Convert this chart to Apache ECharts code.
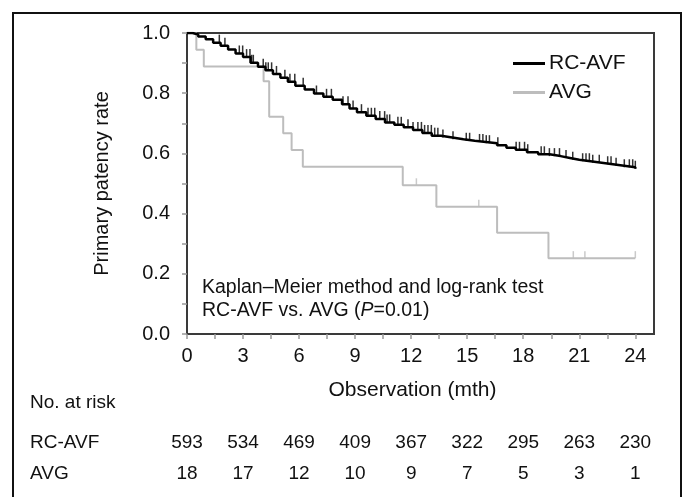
<!DOCTYPE html>
<html><head><meta charset="utf-8">
<script src="https://cdn.jsdelivr.net/npm/echarts@6/dist/echarts.min.js"></script>
<style>html,body{margin:0;padding:0;background:#fff}#c{width:686px;height:497px}</style>
</head><body><div id="c"></div>
<script>
// ---- data ----
const xTickValues = [0,1.5,3,4.5,6,7.5,9,10.5,12,13.5,15,16.5,18,19.5,21,22.5,24];
const xLabelValues = [0,3,6,9,12,15,18,21,24];
const yTickValues = [0,0.1,0.2,0.3,0.4,0.5,0.6,0.7,0.8,0.9,1.0];
const yLabelValues = [0,0.2,0.4,0.6,0.8,1.0];

const rcavfTimes = [0,0.3,0.6,1.0,1.4,1.8,2.2,2.6,3.0,3.4,3.8,4.2,4.6,5.0,5.4,5.8,6.3,6.8,7.3,7.8,8.3,8.7,9.1,9.6,10.1,10.6,11.1,11.6,12.1,12.6,13.1,13.6,14.2,14.8,15.4,16.0,16.6,17.1,17.6,18.2,18.8,19.4,20.0,20.5,21.0,21.6,22.2,22.8,23.4,24.0];
const rcavfSurv  = [1.0,0.995,0.988,0.979,0.968,0.958,0.945,0.932,0.92,0.901,0.888,0.876,0.864,0.851,0.838,0.825,0.812,0.799,0.788,0.778,0.763,0.749,0.737,0.725,0.714,0.703,0.695,0.687,0.678,0.668,0.659,0.653,0.647,0.642,0.638,0.634,0.627,0.619,0.612,0.604,0.597,0.591,0.585,0.579,0.574,0.569,0.564,0.559,0.554,0.549];
const rcavfCensor = [1.73,2.03,2.8,2.98,3.19,3.37,3.46,3.55,4.08,4.22,4.35,4.53,4.79,5.24,5.51,5.77,6.22,6.93,7.47,7.73,8.35,8.62,8.89,9.34,9.69,9.87,10.05,10.32,10.58,10.71,10.85,11.29,11.47,11.83,12.1,12.36,12.55,12.72,12.9,13.08,13.26,13.43,13.7,14.24,14.95,15.13,15.66,15.84,16.02,16.19,16.64,17.62,17.8,18.07,18.24,18.96,19.13,19.4,19.67,19.94,20.29,20.65,21.18,21.36,21.54,21.72,22.07,22.52,22.7,22.97,23.41,23.68,23.86,24.0];

const avgTimes = [0,0.5,0.9,4.1,4.4,5.15,5.6,6.2,11.55,13.35,16.6,19.35,24.0];
const avgSurv  = [1.0,0.944,0.889,0.84,0.722,0.667,0.611,0.556,0.494,0.423,0.336,0.252,0.252];
const avgCensor = [12.28,15.62,20.68,21.3,24.0];

const riskMonths = [0,3,6,9,12,15,18,21,24];
const riskRCAVF = [593,534,469,409,367,322,295,263,230];
const riskAVG = [18,17,12,10,9,7,5,3,1];

// ---- helpers ----
function steps(times, surv){ return times.map((t,i)=>[t, surv[i]]); }
function survAt(times, surv, t){ let v = surv[0]; for (let i=0;i<times.length;i++){ if (times[i] <= t) v = surv[i]; } return v; }
function censorPts(c, times, surv){ return c.map(t=>[t, survAt(times, surv, t)]); }

const FONT = 'Arial, "Liberation Sans", sans-serif';

const chart = echarts.init(document.getElementById('c'), null, {renderer:'canvas'});
const option = {
  animation: false,
  backgroundColor: '#fff',
  grid: { left: 187, right: 32, top: 33, bottom: 163, show: true, borderColor: '#3a3a3a', borderWidth: 2, backgroundColor: 'transparent' },
  legend: {
    left: 513, top: 53, padding: 0, orient: 'vertical', itemWidth: 32, itemHeight: 3, itemGap: 8, icon: 'rect',
    textStyle: { fontFamily: FONT, fontSize: 21, color: '#111', padding: [0,0,0,-1] },
    data: ['RC-AVF', 'AVG']
  },
  xAxis: {
    type: 'value', min: 0, max: 25,
    axisLine: { show: true, lineStyle: { color: '#3a3a3a', width: 2 } },
    axisTick: { show: true, length: 5, lineStyle: { color: '#999', width: 1.5 }, customValues: xTickValues },
    axisLabel: { customValues: xLabelValues, fontFamily: FONT, fontSize: 20, color: '#111', margin: 12 },
    splitLine: { show: false },
    name: 'Observation (mth)', nameLocation: 'middle', nameGap: 46,
    nameTextStyle: { fontFamily: FONT, fontSize: 21, color: '#111', padding: [0, 16, 0, 0] }
  },
  yAxis: {
    type: 'value', min: 0, max: 1.0,
    axisLine: { show: true, lineStyle: { color: '#3a3a3a', width: 2 } },
    axisTick: { show: true, length: 5, lineStyle: { color: '#999', width: 1.5 }, customValues: yTickValues },
    axisLabel: { customValues: yLabelValues, fontFamily: FONT, fontSize: 20, color: '#111', margin: 17, formatter: v => v.toFixed(1) },
    splitLine: { show: false },
    name: 'Primary patency rate', nameLocation: 'middle', nameGap: 75,
    nameTextStyle: { fontFamily: FONT, fontSize: 20, color: '#111' }
  },
  series: [
    { name: 'AVG', type: 'line', step: 'end', data: steps(avgTimes, avgSurv), showSymbol: false,
      lineStyle: { color: '#bdbdbd', width: 2 }, itemStyle: { color: '#bdbdbd' }, z: 2 },
    { name: 'AVG-c', type: 'scatter', data: censorPts(avgCensor, avgTimes, avgSurv), symbol: 'rect',
      symbolSize: [1.5, 7], symbolOffset: [0, -3.5], itemStyle: { color: '#bdbdbd' }, z: 2 },
    { name: 'RC-AVF', type: 'line', step: 'end', data: steps(rcavfTimes, rcavfSurv), showSymbol: false,
      lineStyle: { color: '#000', width: 2.5 }, itemStyle: { color: '#000' }, z: 3 },
    { name: 'RC-AVF-c', type: 'scatter', data: censorPts(rcavfCensor, rcavfTimes, rcavfSurv), symbol: 'rect',
      symbolSize: [1.5, 8], symbolOffset: [0, -4], itemStyle: { color: '#000' }, z: 3 }
  ]
};
chart.setOption(option);

// ---- text overlays ----
const g = [];
g.push({ type: 'rect', shape: { x: 13, y: 13, width: 668, height: 520 }, style: { fill: 'none', stroke: '#111', lineWidth: 2 }, silent: true });
g.push({ type: 'text', x: 202, y: 288, style: { text: 'Kaplan–Meier method and log-rank test', font: '19.5px ' + FONT, fill: '#111', verticalAlign: 'middle' } });
g.push({ type: 'text', x: 202, y: 311, style: { text: 'RC-AVF vs. AVG ({i|P}=0.01)', font: '19.5px ' + FONT, fill: '#111', verticalAlign: 'middle',
  rich: { i: { fontStyle: 'italic', fontSize: 19.5, fontFamily: FONT, fill: '#111' } } } });
g.push({ type: 'text', x: 30, y: 403, style: { text: 'No. at risk', font: '19px ' + FONT, fill: '#111', verticalAlign: 'middle' } });
g.push({ type: 'text', x: 30, y: 443, style: { text: 'RC-AVF', font: '19px ' + FONT, fill: '#111', verticalAlign: 'middle' } });
g.push({ type: 'text', x: 30, y: 474, style: { text: 'AVG', font: '19px ' + FONT, fill: '#111', verticalAlign: 'middle' } });
riskMonths.forEach((m, i) => {
  const px = chart.convertToPixel({ xAxisIndex: 0 }, m);
  g.push({ type: 'text', x: px, y: 443, style: { text: String(riskRCAVF[i]), font: '19px ' + FONT, fill: '#111', align: 'center', verticalAlign: 'middle' } });
  g.push({ type: 'text', x: px, y: 474, style: { text: String(riskAVG[i]), font: '19px ' + FONT, fill: '#111', align: 'center', verticalAlign: 'middle' } });
});
chart.setOption({ graphic: g });
</script></body></html>
